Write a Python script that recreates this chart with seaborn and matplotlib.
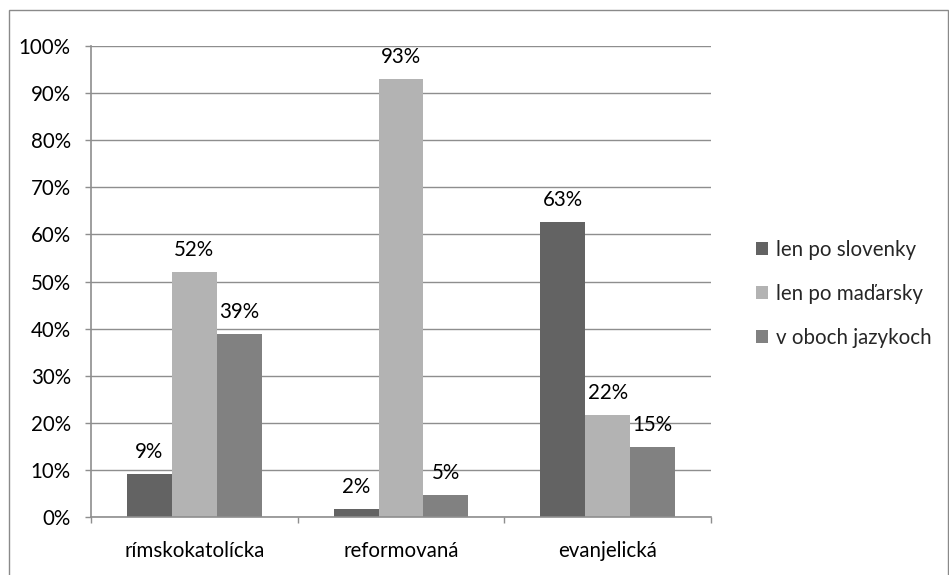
import matplotlib
matplotlib.use("Agg")
import matplotlib.pyplot as plt
from matplotlib.patches import Rectangle, Patch
from matplotlib.ticker import FixedLocator, PercentFormatter
import seaborn as sns
import pandas as pd

# Denominations and the language used, in percent
categories = ["rímskokatolícka", "reformovaná", "evanjelická"]
series_names = ["len po slovenky", "len po maďarsky", "v oboch jazykoch"]
slovak_only = [9.1, 1.6, 62.6]
hungarian_only = [52.0, 92.9, 21.6]
both_languages = [38.8, 4.7, 14.9]
y_ticks = [0, 10, 20, 30, 40, 50, 60, 70, 80, 90, 100]

colors = ["#636363", "#b3b3b3", "#818181"]
grid_gray = "#8e8e8e"
FS = 14.8

rows = []
for name, vals in zip(series_names, [slovak_only, hungarian_only, both_languages]):
    for cat, v in zip(categories, vals):
        rows.append({"category": cat, "series": name, "value": v})
df = pd.DataFrame(rows)

sns.set_theme(style="white")
plt.rcParams["font.family"] = ["Lato", "DejaVu Sans"]

W, H = 949, 575
fig = plt.figure(figsize=(W / 100, H / 100), dpi=100)
ax = fig.add_axes([91 / W, 1 - 517 / H, (711 - 91) / W, (517 - 46) / H])

sns.barplot(data=df, x="category", y="value", hue="series", order=categories,
            hue_order=series_names, palette=colors, width=0.652, linewidth=0,
            saturation=1, legend=False, ax=ax)

ax.set_ylim(0, 100)
ax.set_xlim(-0.5, 2.5)
ax.yaxis.set_major_locator(FixedLocator(y_ticks))
ax.yaxis.set_major_formatter(PercentFormatter(decimals=0))
ax.set_xlabel("")
ax.set_ylabel("")

ax.grid(axis="y", color=grid_gray, linewidth=1.0)
ax.set_axisbelow(True)
for side in ["top", "right"]:
    ax.spines[side].set_visible(False)
for side in ["left", "bottom"]:
    ax.spines[side].set_color(grid_gray)
    ax.spines[side].set_linewidth(1.2)

ax.tick_params(axis="y", which="major", length=4.5, width=1.0, color=grid_gray,
               direction="out", pad=10, labelsize=FS, labelcolor="black", left=True)
ax.tick_params(axis="x", which="major", length=0, pad=17, labelsize=FS,
               labelcolor="black")
ax.xaxis.set_minor_locator(FixedLocator([-0.5, 0.5, 1.5, 2.5]))
ax.tick_params(axis="x", which="minor", length=4.5, width=1.0, color=grid_gray,
               direction="out", bottom=True)

# value labels above each bar
for container in ax.containers:
    for bar in container:
        h = bar.get_height()
        ax.annotate(f"{h:.0f}%", (bar.get_x() + bar.get_width() / 2, h),
                    xytext=(0, 16), textcoords="offset points",
                    ha="center", va="center", fontsize=FS, color="black")

handles = [Patch(facecolor=c, edgecolor="none") for c in colors]
fig.legend(handles, series_names, loc="center left",
           bbox_to_anchor=(756 / W, 1 - 294 / H), frameon=False, fontsize=FS,
           handlelength=0.6, handleheight=0.6, handletextpad=0.35,
           labelspacing=1.17, borderpad=0, borderaxespad=0)

# chart-area frame
fig.add_artist(Rectangle((8.5 / W, -0.05), (947.5 - 8.5) / W, 1.05 - 9.5 / H,
                         transform=fig.transFigure, fill=False,
                         edgecolor="#8a8a8a", linewidth=1.0, clip_on=False))

fig.savefig("out.png", dpi=100)
